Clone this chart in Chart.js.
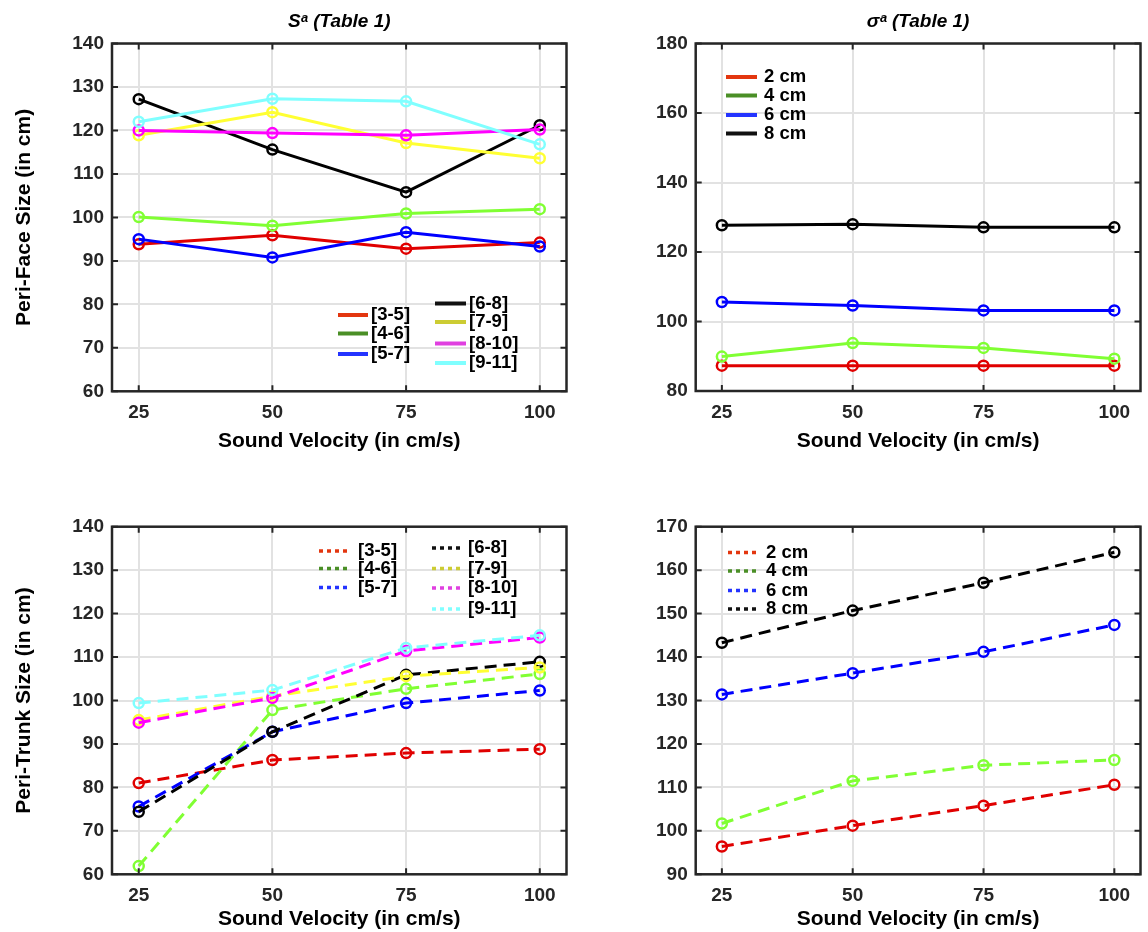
<!DOCTYPE html>
<html>
<head>
<meta charset="utf-8">
<title>Peri-Face / Peri-Trunk Size</title>
<script src="https://cdn.jsdelivr.net/npm/chart.js@4.4.1/dist/chart.umd.min.js"></script>
<style>
  body { margin: 0; background: #fff; }
  #wrap { position: relative; width: 1148px; height: 932px; }
  canvas { position: absolute; }
</style>
</head>
<body>
<div id="wrap">
  <canvas id="faceAge" width="574" height="466" style="left:0;top:0"></canvas>
  <canvas id="faceDist" width="574" height="466" style="left:574px;top:0"></canvas>
  <canvas id="trunkAge" width="574" height="466" style="left:0;top:466px"></canvas>
  <canvas id="trunkDist" width="574" height="466" style="left:574px;top:466px"></canvas>
</div>
<script>
// 1. DATA

const velocities = [25, 50, 75, 100];
const velocityLabels = ["25", "50", "75", "100"];
const ageGroups = ["[3-5]", "[4-6]", "[5-7]", "[6-8]", "[7-9]", "[8-10]", "[9-11]"];
const distances = ["2 cm", "4 cm", "6 cm", "8 cm"];

// Peri-Face, S^a
const face3to5 = [93.8, 95.9, 92.8, 94.2];
const face4to6 = [100.1, 98.1, 100.9, 101.9];
const face5to7 = [95.0, 90.8, 96.6, 93.3];
const face6to8 = [127.2, 115.6, 105.8, 121.2];
const face7to9 = [118.9, 124.2, 117.1, 113.6];
const face8to10 = [120.0, 119.4, 118.9, 120.2];
const face9to11 = [122.0, 127.3, 126.7, 116.8];

// Peri-Face, sigma^a
const face2cm = [87.3, 87.3, 87.3, 87.3];
const face4cm = [89.9, 93.8, 92.4, 89.3];
const face6cm = [105.6, 104.6, 103.2, 103.2];
const face8cm = [127.7, 128.0, 127.1, 127.1];

// Peri-Trunk, S^a
const trunk3to5 = [81.0, 86.3, 87.9, 88.8];
const trunk4to6 = [61.9, 97.8, 102.7, 106.1];
const trunk5to7 = [75.6, 92.8, 99.4, 102.3];
const trunk6to8 = [74.4, 92.8, 105.9, 108.9];
const trunk7to9 = [95.5, 101.0, 105.6, 107.6];
const trunk8to10 = [94.9, 100.6, 111.4, 114.5];
const trunk9to11 = [99.4, 102.4, 112.1, 115.0];

// Peri-Trunk, sigma^a
const trunk2cm = [96.4, 101.2, 105.8, 110.6];
const trunk4cm = [101.7, 111.5, 115.1, 116.3];
const trunk6cm = [131.4, 136.3, 141.2, 147.4];
const trunk8cm = [143.3, 150.7, 157.1, 164.1];

// y tick labels
const faceAgeTicks = [60, 70, 80, 90, 100, 110, 120, 130, 140];
const faceDistTicks = [80, 100, 120, 140, 160, 180];
const trunkAgeTicks = [60, 70, 80, 90, 100, 110, 120, 130, 140];
const trunkDistTicks = [90, 100, 110, 120, 130, 140, 150, 160, 170];

const ageColors = ["#e00000", "#80ff33", "#0000ff", "#000000", "#ffff33", "#ff00ff", "#80ffff"];
const distColors = ["#e00000", "#80ff33", "#0000ff", "#000000"];
const ageLegendColors = ["#e3360f", "#4a8f26", "#2434ff", "#111111", "#cccc33", "#e040e0", "#80ffff"];
const distLegendColors = ["#e3360f", "#4a8f26", "#2434ff", "#111111"];


// 2. PLUGINS (frame with inner ticks, in-plot legend)

const font = "'Liberation Sans', Arial, 'DejaVu Sans', sans-serif";

const frame = {
  id: "frame",
  afterDatasetsDraw(chart) {
    const { ctx, chartArea: a, scales } = chart;
    ctx.save();
    ctx.strokeStyle = "#262626";
    ctx.lineWidth = 2.5;
    ctx.strokeRect(a.left, a.top, a.right - a.left, a.bottom - a.top);
    ctx.lineWidth = 2;
    ctx.beginPath();
    scales.x.ticks.forEach(t => {
      const px = scales.x.getPixelForValue(t.value);
      ctx.moveTo(px, a.bottom); ctx.lineTo(px, a.bottom - 6);
      ctx.moveTo(px, a.top); ctx.lineTo(px, a.top + 6);
    });
    scales.y.ticks.forEach(t => {
      const py = scales.y.getPixelForValue(t.value);
      ctx.moveTo(a.left, py); ctx.lineTo(a.left + 6, py);
      ctx.moveTo(a.right, py); ctx.lineTo(a.right - 6, py);
    });
    ctx.stroke();
    ctx.restore();
  }
};

// legend layout per canvas (line start, line end, text x, y)
const legends = {
  faceAge: { dotted: false, labels: ageGroups, colors: ageLegendColors, items: [
    [338, 368, 371, 315], [338, 368, 371, 333.5], [338, 368, 371, 354],
    [435, 466, 469, 303.5], [435, 466, 469, 322], [435, 466, 469, 343.5], [435, 466, 469, 363]
  ] },
  faceDist: { dotted: false, labels: distances, colors: distLegendColors, items: [
    [152, 183, 190, 77], [152, 183, 190, 95.5], [152, 183, 190, 115], [152, 183, 190, 133.5]
  ] },
  trunkAge: { dotted: true, labels: ageGroups, colors: ageLegendColors, items: [
    [319, 351, 358, 85], [319, 351, 358, 102.5], [319, 351, 358, 121.5],
    [432, 462, 468, 82], [432, 462, 468, 102.5], [432, 462, 468, 122], [432, 462, 468, 143]
  ] },
  trunkDist: { dotted: true, labels: distances, colors: distLegendColors, items: [
    [154, 186, 192, 86.5], [154, 186, 192, 105], [154, 186, 192, 124.5], [154, 186, 192, 143]
  ] }
};

const legendPlugin = {
  id: "legendPlugin",
  afterDatasetsDraw(chart) {
    const cfg = legends[chart.canvas.id];
    const ctx = chart.ctx;
    ctx.save();
    ctx.font = "bold 18.5px " + font;
    ctx.textBaseline = "middle";
    cfg.items.forEach((it, i) => {
      ctx.strokeStyle = cfg.colors[i];
      ctx.lineWidth = cfg.dotted ? 3.5 : 4;
      ctx.setLineDash(cfg.dotted ? [4, 4] : []);
      ctx.beginPath();
      ctx.moveTo(it[0], it[3]);
      ctx.lineTo(it[1], it[3]);
      ctx.stroke();
      ctx.setLineDash([]);
      ctx.fillStyle = "#000";
      ctx.fillText(cfg.labels[i], it[2], it[3]);
    });
    ctx.restore();
  }
};


// 3. CHART BUILDER

function makeChart(id, cfg) {
  const datasets = cfg.series.map((values, i) => ({
    label: cfg.labels[i],
    data: velocities.map((v, k) => ({ x: v, y: values[k] })),
    borderColor: cfg.colors[i],
    borderWidth: 3,
    borderDash: cfg.dashed ? [12, 7] : [],
    pointStyle: "circle",
    pointRadius: 5,
    pointBorderWidth: 2.5,
    pointBorderColor: cfg.colors[i],
    pointBackgroundColor: "rgba(0,0,0,0)",
    tension: 0,
    order: -i
  }));

  return new Chart(document.getElementById(id), {
    type: "line",
    data: { datasets },
    options: {
      responsive: false,
      animation: false,
      events: [],
      layout: { padding: cfg.padding },
      plugins: {
        legend: { display: false },
        tooltip: { enabled: false },
        title: {
          display: !!cfg.title,
          text: cfg.title || "",
          fullSize: false,
          color: "#000",
          font: { family: font, size: 19, weight: "bold", style: "italic" },
          padding: { top: 10, bottom: 10.7 }
        }
      },
      scales: {
        x: {
          type: "linear",
          min: 20,
          max: 105,
          afterBuildTicks: s => { s.ticks = velocities.map(v => ({ value: v })); },
          afterFit: s => { s.height = cfg.xHeight; },
          ticks: {
            callback: (v, i) => velocityLabels[i],
            color: "#262626",
            font: { family: font, size: 19, weight: "bold" },
            padding: 10,
            maxRotation: 0,
            autoSkip: false
          },
          grid: { color: "#e2e2e2", lineWidth: 2, drawTicks: false },
          border: { display: false },
          title: {
            display: true,
            text: "Sound Velocity (in cm/s)",
            color: "#000",
            font: { family: font, size: 21, weight: "bold" },
            padding: { top: 0, bottom: cfg.xTitlePad }
          }
        },
        y: {
          type: "linear",
          min: cfg.yTicks[0],
          max: cfg.yTicks[cfg.yTicks.length - 1],
          afterBuildTicks: s => { s.ticks = cfg.yTicks.map(v => ({ value: v })); },
          afterFit: s => { s.width = cfg.yWidth; },
          ticks: {
            color: "#262626",
            font: { family: font, size: 19, weight: "bold" },
            padding: 8
          },
          grid: { color: "#e2e2e2", lineWidth: 2, drawTicks: false },
          border: { display: false },
          title: {
            display: !!cfg.yTitle,
            text: cfg.yTitle || "",
            color: "#000",
            font: { family: font, size: 21, weight: "bold" },
            padding: { top: 11.4, bottom: 0 }
          }
        }
      }
    },
    plugins: [frame, legendPlugin]
  });
}


// 4. THE FOUR PANELS

makeChart("faceAge", {
  series: [face3to5, face4to6, face5to7, face6to8, face7to9, face8to10, face9to11],
  labels: ageGroups, colors: ageColors, dashed: false,
  title: "Sᵃ (Table 1)", yTitle: "Peri-Face Size (in cm)", yTicks: faceAgeTicks,
  padding: { top: 0, right: 7, bottom: 0, left: 0 },
  yWidth: 112, xHeight: 74.7, xTitlePad: 11.7
});

makeChart("faceDist", {
  series: [face2cm, face4cm, face6cm, face8cm],
  labels: distances, colors: distColors, dashed: false,
  title: "σᵃ (Table 1)", yTitle: "", yTicks: faceDistTicks,
  padding: { top: 0, right: 1.5, bottom: 0, left: 0 },
  yWidth: 121.7, xHeight: 75, xTitlePad: 11.7
});

makeChart("trunkAge", {
  series: [trunk3to5, trunk4to6, trunk5to7, trunk6to8, trunk7to9, trunk8to10, trunk9to11],
  labels: ageGroups, colors: ageColors, dashed: true,
  title: "", yTitle: "Peri-Trunk Size (in cm)", yTicks: trunkAgeTicks,
  padding: { top: 60.7, right: 7, bottom: 0, left: 0 },
  yWidth: 112, xHeight: 57.7, xTitlePad: 0
});

makeChart("trunkDist", {
  series: [trunk2cm, trunk4cm, trunk6cm, trunk8cm],
  labels: distances, colors: distColors, dashed: true,
  title: "", yTitle: "", yTicks: trunkDistTicks,
  padding: { top: 60.7, right: 1.5, bottom: 0, left: 0 },
  yWidth: 121.7, xHeight: 57.7, xTitlePad: 0
});
</script>
</body>
</html>
